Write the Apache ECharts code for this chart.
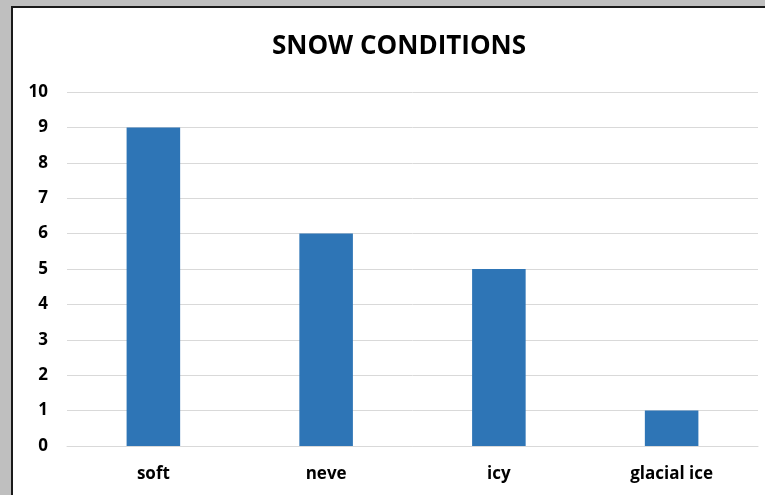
<!DOCTYPE html>
<html>
<head>
<meta charset="utf-8">
<script src="https://cdn.jsdelivr.net/npm/echarts@6/dist/echarts.min.js"></script>
<style>
  html, body { margin: 0; padding: 0; background: #bfbfbf; }
  #frame {
    position: absolute; left: 11px; top: 6px;
    width: 754px; height: 489px;
    background: #fff;
    border-left: 2px solid #1a1a1a;
    border-top: 2px solid #1a1a1a;
    box-sizing: border-box;
  }
  #chart { width: 752px; height: 487px; }
</style>
</head>
<body>
<div id="frame"><div id="chart"></div></div>
<script>
// snow conditions
const categories = ['soft', 'neve', 'icy', 'glacial ice']
const values = [9, 6, 5, 1]
const yTicks = [0, 10, 1] // min, max, step

const chart = echarts.init(document.getElementById('chart'))
chart.setOption({
  animation: false,
  title: {
    text: 'SNOW CONDITIONS',
    left: 381,
    top: 21,
    textAlign: 'center',
    textStyle: { fontFamily: 'Open Sans', fontWeight: 'bold', fontSize: 26, color: '#000' }
  },
  grid: { left: 54, right: 7, top: 84, bottom: 49 },
  xAxis: {
    type: 'category',
    data: categories,
    axisLine: { lineStyle: { color: '#d9d9d9', width: 1 } },
    axisTick: { show: false },
    axisLabel: { margin: 20, color: '#000', fontFamily: 'Open Sans', fontWeight: 'bold', fontSize: 17 }
  },
  yAxis: {
    type: 'value',
    min: yTicks[0],
    max: yTicks[1],
    interval: yTicks[2],
    axisLine: { show: false },
    axisTick: { show: false },
    splitLine: { lineStyle: { color: '#d9d9d9', width: 1 } },
    axisLabel: { margin: 19, color: '#000', fontFamily: 'Open Sans', fontWeight: 'bold', fontSize: 17 }
  },
  series: [{
    type: 'bar',
    data: values,
    barWidth: '31%',
    itemStyle: { color: '#2e75b6' }
  }]
})
</script>
</body>
</html>
